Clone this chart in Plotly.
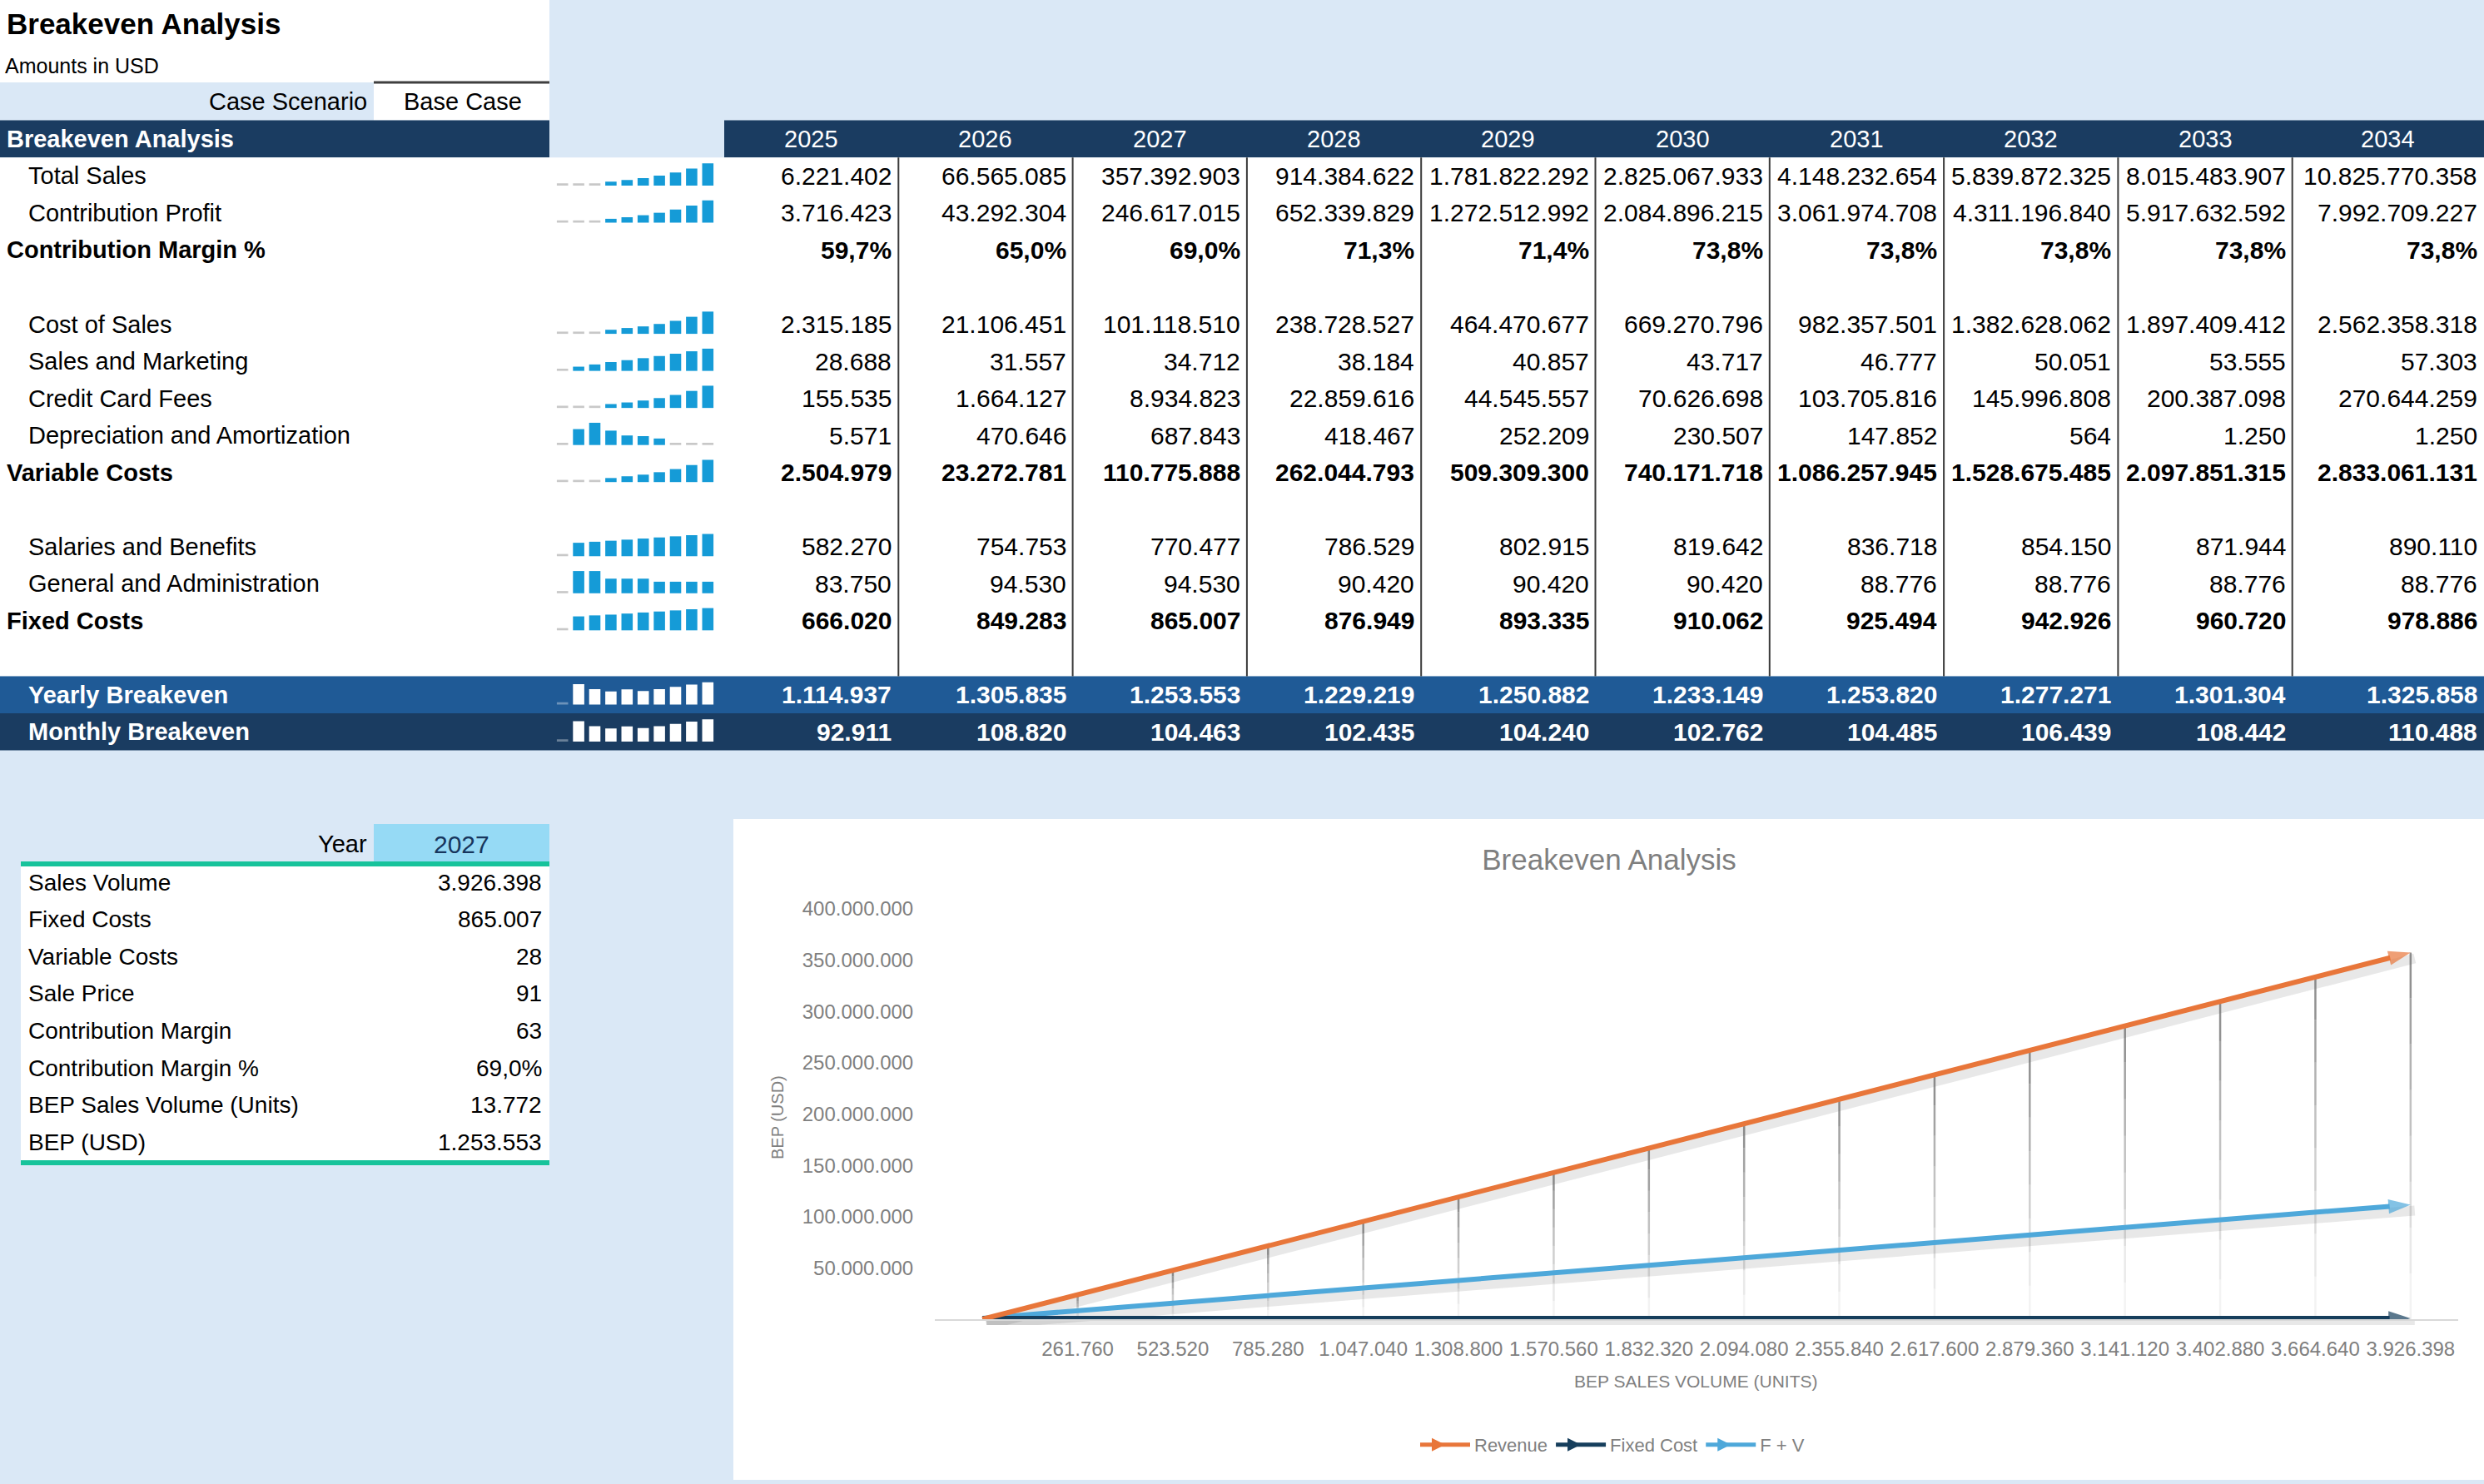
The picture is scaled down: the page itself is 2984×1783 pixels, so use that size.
import plotly.graph_objects as go

# ---------------- DATA ----------------
years = [2025, 2026, 2027, 2028, 2029, 2030, 2031, 2032, 2033, 2034]
total_sales = [6221402, 66565085, 357392903, 914384622, 1781822292, 2825067933, 4148232654, 5839872325, 8015483907, 10825770358]
contribution_profit = [3716423, 43292304, 246617015, 652339829, 1272512992, 2084896215, 3061974708, 4311196840, 5917632592, 7992709227]
contribution_margin_pct = [59.7, 65.0, 69.0, 71.3, 71.4, 73.8, 73.8, 73.8, 73.8, 73.8]
cost_of_sales = [2315185, 21106451, 101118510, 238728527, 464470677, 669270796, 982357501, 1382628062, 1897409412, 2562358318]
sales_marketing = [28688, 31557, 34712, 38184, 40857, 43717, 46777, 50051, 53555, 57303]
credit_card_fees = [155535, 1664127, 8934823, 22859616, 44545557, 70626698, 103705816, 145996808, 200387098, 270644259]
depreciation = [5571, 470646, 687843, 418467, 252209, 230507, 147852, 564, 1250, 1250]
variable_costs = [2504979, 23272781, 110775888, 262044793, 509309300, 740171718, 1086257945, 1528675485, 2097851315, 2833061131]
salaries = [582270, 754753, 770477, 786529, 802915, 819642, 836718, 854150, 871944, 890110]
general_admin = [83750, 94530, 94530, 90420, 90420, 90420, 88776, 88776, 88776, 88776]
fixed_costs = [666020, 849283, 865007, 876949, 893335, 910062, 925494, 942926, 960720, 978886]
yearly_breakeven = [1114937, 1305835, 1253553, 1229219, 1250882, 1233149, 1253820, 1277271, 1301304, 1325858]
monthly_breakeven = [92911, 108820, 104463, 102435, 104240, 102762, 104485, 106439, 108442, 110488]

summary_labels = ["Sales Volume", "Fixed Costs", "Variable Costs", "Sale Price", "Contribution Margin",
                  "Contribution Margin %", "BEP Sales Volume (Units)", "BEP (USD)"]
summary_values = ["3.926.398", "865.007", "28", "91", "63", "69,0%", "13.772", "1.253.553"]
summary_year = "2027"

# chart series
sales_volume = [0, 261760, 523520, 785280, 1047040, 1308800, 1570560, 1832320, 2094080,
                2355840, 2617600, 2879360, 3141120, 3402880, 3664640, 3926398]
revenue = [0, 23826000, 47652000, 71479000, 95305000, 119131000, 142957000, 166783000, 190610000,
           214436000, 238262000, 262088000, 285914000, 309741000, 333567000, 357393000]
fixed_cost_line = [865007] * 16
f_plus_v = [865007, 8250000, 15635000, 23020000, 30405000, 37790000, 45175000, 52560000, 59945000,
            67330000, 74715000, 82100000, 89485000, 96870000, 104255000, 111641000]
y_ticks = [50000000, 100000000, 150000000, 200000000, 250000000, 300000000, 350000000, 400000000]

# ---------------- STYLE ----------------
W, H = 2984, 1783
FONT = "Liberation Sans"
LIGHT = "#DAE8F6"
NAVY = "#1A3C61"
MID = "#1F5A96"
SPARK = "#159BD7"
TEAL = "#17C39B"
YEARCELL = "#96DAF5"
GRAY = "#7F7F7F"


def px(x):
    return x / W


def py(y):
    return 1 - y / H


def fmt(v):
    return f"{v:,}".replace(",", ".")


def pct(v):
    return f"{v:.1f}%".replace(".", ",")


shapes = []
anns = []


def rect(x0, y0, x1, y1, color):
    shapes.append(dict(type="rect", xref="paper", yref="paper", x0=px(x0), x1=px(x1),
                       y0=py(y1), y1=py(y0), fillcolor=color, line=dict(width=0), layer="below"))


def line(x0, y0, x1, y1, color, width):
    shapes.append(dict(type="line", xref="paper", yref="paper", x0=px(x0), x1=px(x1),
                       y0=py(y0), y1=py(y1), line=dict(color=color, width=width), layer="below"))


def text(t, x, y, anchor="left", size=29, color="#000000", bold=False):
    anns.append(dict(text=f"<b>{t}</b>" if bold else t, x=px(x), y=py(y), xref="paper", yref="paper",
                     xanchor=anchor, yanchor="middle", showarrow=False,
                     font=dict(size=size, color=color, family=FONT)))


# ---------------- TABLE GEOMETRY ----------------
HEAD_TOP = 144.6
PITCH = 44.53
BODY_TOP = HEAD_TOP + PITCH
COL0 = 870
COLW = 209.3


def col_left(i):
    return COL0 + COLW * i


def col_right(i):
    return W if i == 9 else COL0 + COLW * (i + 1)


def row_center(r):
    return BODY_TOP + PITCH * (r + 0.5)


# backgrounds
rect(0, 0, 660, 99, "white")
rect(449, 99, 660, HEAD_TOP, "white")
line(449, 99, 660, 99, "#3F3F3F", 3)
rect(0, HEAD_TOP, 660, BODY_TOP, NAVY)
rect(COL0, HEAD_TOP, W, BODY_TOP, NAVY)
rect(0, BODY_TOP, W, BODY_TOP + 14 * PITCH, "white")
rect(0, BODY_TOP + 14 * PITCH, W, BODY_TOP + 15 * PITCH, MID)
rect(0, BODY_TOP + 15 * PITCH, W, BODY_TOP + 16 * PITCH, NAVY)
for i in range(1, 10):
    line(col_left(i), BODY_TOP, col_left(i), BODY_TOP + 14 * PITCH, "#3A3A3A", 2)

# chart card and bottom table
rect(881, 984, W, 1778, "white")
rect(25, 1040, 660, 1397, "white")
rect(449, 990, 660, 1037, YEARCELL)
line(25, 1038, 660, 1038, TEAL, 6)
line(25, 1397, 660, 1397, TEAL, 6)

# header texts
text("Breakeven Analysis", 6, 29, size=35, bold=True)
text("Amounts in USD", 4, 79, size=25)
text("Case Scenario", 443, 122, anchor="right", size=29)
text("Base Case", 556, 122, anchor="center", size=29)
text("Breakeven Analysis", 6, HEAD_TOP + PITCH / 2, size=29, color="white", bold=True)
for i, yr in enumerate(years):
    text(str(yr), (col_left(i) + col_right(i)) / 2, HEAD_TOP + PITCH / 2, anchor="center",
         size=29, color="white")

rows = [
    ("Total Sales", total_sales, "indent", "num", True),
    ("Contribution Profit", contribution_profit, "indent", "num", True),
    ("Contribution Margin %", contribution_margin_pct, "bold", "pct", False),
    None,
    ("Cost of Sales", cost_of_sales, "indent", "num", True),
    ("Sales and Marketing", sales_marketing, "indent", "num", True),
    ("Credit Card Fees", credit_card_fees, "indent", "num", True),
    ("Depreciation and Amortization", depreciation, "indent", "num", True),
    ("Variable Costs", variable_costs, "bold", "num", True),
    None,
    ("Salaries and Benefits", salaries, "indent", "num", True),
    ("General and Administration", general_admin, "indent", "num", True),
    ("Fixed Costs", fixed_costs, "bold", "num", True),
    None,
    ("Yearly Breakeven", yearly_breakeven, "band", "num", True),
    ("Monthly Breakeven", monthly_breakeven, "band", "num", True),
]

spark = {"blue": ([], [], []), "gray": ([], [], []), "white": ([], [], []), "dim": ([], [], [])}

for r, row in enumerate(rows):
    if row is None:
        continue
    label, vals, style, kind, has_spark = row
    yc = row_center(r)
    bold = style in ("bold", "band")
    color = "white" if style == "band" else "#000000"
    lx = 6 if style == "bold" else 32
    text(label, lx, yc, size=29, color=color, bold=bold)
    for i, v in enumerate(vals):
        t = pct(v) if kind == "pct" else fmt(v)
        text(t, col_right(i) - 6, yc, anchor="right", size=30, color=color, bold=bold)
    if has_spark:
        mn, mx = min(vals), max(vals)
        for j, v in enumerate(vals):
            norm = (v - mn) / (mx - mn) if mx > mn else 0
            if norm < 0.05:
                key = "dim" if style == "band" else "gray"
                h = 0.06
            else:
                key = "white" if style == "band" else "blue"
                h = 0.06 + 0.54 * norm
            spark[key][0].append(j)
            spark[key][1].append(-h)
            spark[key][2].append(r + 0.76)

# bottom-left summary table
text("Year", 443, 1014, anchor="right", size=29)
text(summary_year, 554, 1014, anchor="center", size=30, color="#17365D")
for k, (lab, val) in enumerate(zip(summary_labels, summary_values)):
    yc = 1060 + 44.6 * k
    text(lab, 32, yc, size=28)
    text(val, 653, yc, anchor="right", size=28)

# chart labels
text("BEP SALES VOLUME (UNITS)", 2038, 1659, anchor="center", size=21, color=GRAY)
anns.append(dict(text="BEP (USD)", x=px(934), y=py(1343), xref="paper", yref="paper", textangle=-90,
                 xanchor="center", yanchor="middle", showarrow=False,
                 font=dict(size=20, color=GRAY, family=FONT)))

fig = go.Figure()

# ---------------- CHART ----------------
REV_C = "#E8763A"
FIX_C = "#163E5C"
FV_C = "#4EA8DA"
xr = [-130880, 3926398 + 130880]

# soft shadows (on an offset axis pair)
for series in (revenue, fixed_cost_line, f_plus_v):
    fig.add_trace(go.Scatter(x=sales_volume, y=series, mode="lines", xaxis="x", yaxis="y",
                             line=dict(color="rgba(0,0,0,0.09)", width=12), showlegend=False,
                             hoverinfo="skip"))

# drop lines with fading gradient
NSEG = 8
for s in range(NSEG):
    xs, ys = [], []
    for xv, rv in zip(sales_volume, revenue):
        if rv <= 0:
            continue
        top = rv * (1 - s / NSEG)
        bot = rv * (1 - (s + 1) / NSEG)
        xs += [xv, xv, None]
        ys += [top, bot, None]
    alpha = 0.66 * (1 - s / NSEG) ** 1.3 + 0.03
    fig.add_trace(go.Scatter(x=xs, y=ys, mode="lines", xaxis="x2", yaxis="y2",
                             line=dict(color=f"rgba(95,95,95,{alpha:.3f})", width=2.5),
                             showlegend=False, hoverinfo="skip"))


def arrow_sizes(n, s):
    return [0] * (n - 1) + [s]


for series, col, wid in ((f_plus_v, FV_C, 6), (fixed_cost_line, FIX_C, 6), (revenue, REV_C, 6)):
    fig.add_trace(go.Scatter(x=sales_volume, y=series, mode="lines+markers", xaxis="x2", yaxis="y2",
                             line=dict(color=col, width=wid),
                             marker=dict(symbol="arrow", angleref="previous",
                                         size=arrow_sizes(len(series), 28), color=col,
                                         line=dict(width=0)),
                             showlegend=False))

for name, col in (("Revenue", REV_C), ("Fixed Cost", FIX_C), ("F + V", FV_C)):
    fig.add_trace(go.Scatter(x=[None], y=[None], mode="lines+markers", name=name, xaxis="x2", yaxis="y2",
                             line=dict(color=col, width=5),
                             marker=dict(symbol="arrow-right", size=16, color=col)))

# sparklines
colors = {"blue": SPARK, "gray": "#C8C8C8", "white": "#FFFFFF", "dim": "rgba(255,255,255,0.35)"}
for key, (xs, ys, bs) in spark.items():
    if xs:
        fig.add_trace(go.Bar(x=xs, y=ys, base=bs, width=0.7, xaxis="x3", yaxis="y3",
                             marker=dict(color=colors[key], line=dict(width=0)),
                             showlegend=False, hoverinfo="skip"))

axis_font = dict(size=24, color=GRAY, family=FONT)
fig.update_layout(
    width=W, height=H, margin=dict(l=0, r=0, t=0, b=0, pad=0, autoexpand=False),
    paper_bgcolor=LIGHT, plot_bgcolor="rgba(0,0,0,0)",
    barmode="overlay",
    shapes=shapes, annotations=anns,
    title=dict(text="Breakeven Analysis", x=px(1933), y=py(1033), xanchor="center", yanchor="middle",
               font=dict(size=35, color=GRAY, family=FONT)),
    xaxis=dict(domain=[px(1128), px(2958)], range=xr, visible=False, anchor="y", fixedrange=True,
               automargin=False),
    yaxis=dict(domain=[py(1592), py(1099)], range=[0, 400000000], visible=False, anchor="x",
               fixedrange=True, automargin=False),
    xaxis2=dict(domain=[px(1123), px(2953)], range=xr, anchor="y2",
                showline=True, linecolor="#D9D9D9", linewidth=2, showgrid=False, zeroline=False,
                tickvals=sales_volume[1:], ticktext=[fmt(v) for v in sales_volume[1:]],
                ticks="outside", ticklen=13, tickcolor="rgba(0,0,0,0)", tickangle=0,
                tickfont=axis_font, fixedrange=True, automargin=False),
    yaxis2=dict(domain=[py(1585), py(1092)], range=[0, 400000000], anchor="x2",
                showline=False, showgrid=False, zeroline=False,
                tickvals=y_ticks, ticktext=[fmt(v) for v in y_ticks],
                ticks="outside", ticklen=20, tickcolor="rgba(0,0,0,0)",
                tickfont=axis_font, fixedrange=True, automargin=False),
    xaxis3=dict(domain=[px(666), px(860)], range=[-0.5, 9.5], visible=False, anchor="y3",
                fixedrange=True, automargin=False),
    yaxis3=dict(domain=[py(BODY_TOP + 16 * PITCH), py(BODY_TOP)], range=[16, 0], visible=False,
                anchor="x3", fixedrange=True, automargin=False),
    legend=dict(orientation="h", x=px(1937), y=py(1736), xanchor="center", yanchor="middle",
                font=dict(size=22, color=GRAY, family=FONT), bgcolor="rgba(0,0,0,0)",
                itemwidth=60),
    font=dict(family=FONT),
)

fig.write_html("out.html", config={"displayModeBar": False},
               post_script="document.body.style.margin='0';document.body.style.overflow='hidden';")
